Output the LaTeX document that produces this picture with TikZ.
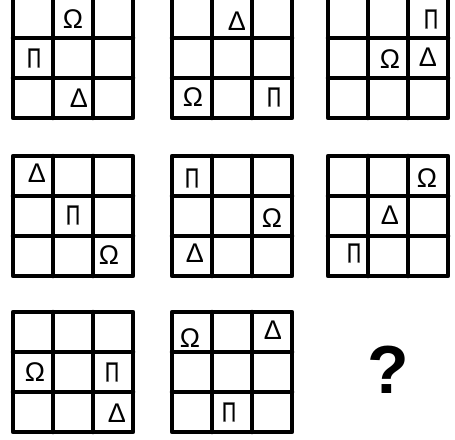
\documentclass[tikz,border=0pt]{standalone}
\usepackage{fontspec}
\setmainfont{Liberation Sans}
\newfontfamily\boldishfont[FakeBold=1.2]{Liberation Sans}
\tikzset{
  gridline/.style={line width=4.5pt, black, line join=round, line cap=round},
  sym/.style={font=\fontsize{27}{27}\selectfont, inner sep=0pt, anchor=center},
  psym/.style={font=\boldishfont\fontsize{27}{27}\selectfont, inner sep=0pt, anchor=center, xscale=0.72, yscale=1.02},
  qmark/.style={font=\bfseries\fontsize{68}{68}\selectfont, inner sep=0pt}
}
\newcommand{\pgrid}[2]{%
  \draw[gridline] (#1,#2) rectangle ++(120,120);
  \draw[gridline] (#1+40,#2) -- ++(0,120);
  \draw[gridline] (#1+80,#2) -- ++(0,120);
  \draw[gridline] (#1,#2+40) -- ++(120,0);
  \draw[gridline] (#1,#2+80) -- ++(120,0);
}
\begin{document}
\begin{tikzpicture}[x=1pt,y=-1pt]
\useasboundingbox (0,0) rectangle (455,439);
\fill[white] (0,0) rectangle (455,439);
% grids
\pgrid{13}{-2}
\pgrid{172}{-2}
\pgrid{328}{-2}
\pgrid{13}{156}
\pgrid{172}{156}
\pgrid{328}{156}
\pgrid{13}{312}
\pgrid{172}{312}
% grid 1
\node[sym] (g1o) at (73,19) {Ω};
\node[psym] (g1p) at (34,58) {Π};
\node[sym] (g1d) at (79,98) {Δ};
% grid 2
\node[sym] (g2d) at (237,21) {Δ};
\node[sym] (g2o) at (193,97) {Ω};
\node[psym] (g2p) at (274,97) {Π};
% grid 3
\node[psym] (g3p) at (431,19) {Π};
\node[sym] (g3o) at (390,59) {Ω};
\node[sym] (g3d) at (428,57) {Δ};
% grid 4
\node[sym] (g4d) at (37,173) {Δ};
\node[psym] (g4p) at (73,215) {Π};
\node[sym] (g4o) at (109,255) {Ω};
% grid 5
\node[psym] (g5p) at (192,178) {Π};
\node[sym] (g5o) at (272,218) {Ω};
\node[sym] (g5d) at (195,253) {Δ};
% grid 6
\node[sym] (g6o) at (427,178) {Ω};
\node[sym] (g6d) at (390,215) {Δ};
\node[psym] (g6p) at (354,253) {Π};
% grid 7
\node[sym] (g7o) at (35,372) {Ω};
\node[psym] (g7p) at (112,372) {Π};
\node[sym] (g7d) at (117,413) {Δ};
% grid 8
\node[sym] (g8o) at (190,338) {Ω};
\node[sym] (g8d) at (273,330) {Δ};
\node[psym] (g8p) at (229,412) {Π};
% question mark
\node[qmark] (q) at (388,370) {?};
\end{tikzpicture}
\end{document}
